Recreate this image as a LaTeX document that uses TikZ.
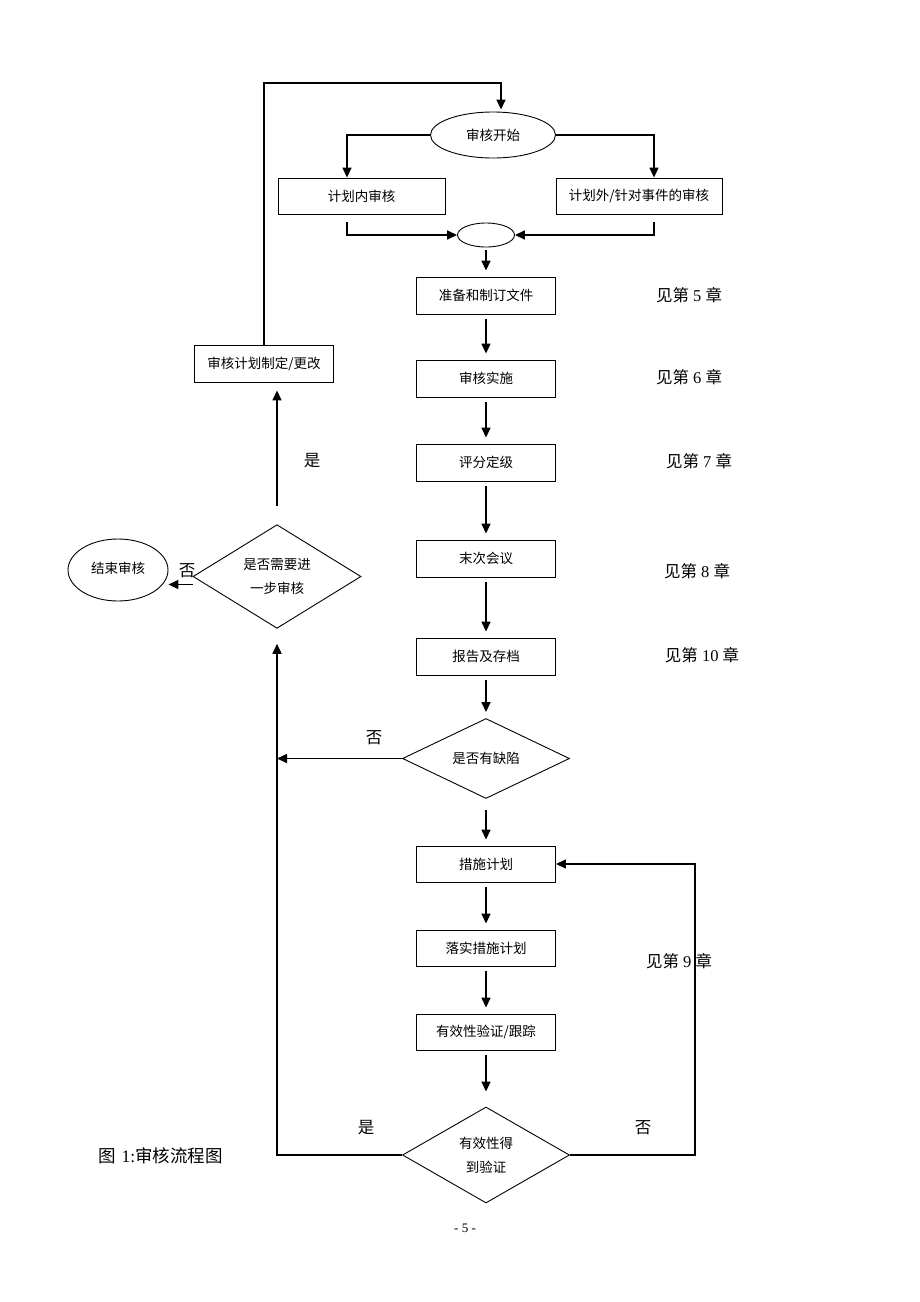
\documentclass[tikz,border=0pt]{standalone}
\usepackage{fontspec}
\setmainfont{Liberation Serif}
\newfontfamily\cjk{Noto Sans CJK SC}
\usetikzlibrary{shapes.geometric,arrows.meta}
\begin{document}
\begin{tikzpicture}[x=1pt,y=-1pt,
  box/.style={draw,line width=0.9pt,minimum width=139pt,minimum height=37pt,inner sep=0pt,font=\cjk\fontsize{13.5}{16}\selectfont},
  oval/.style={draw,ellipse,line width=0.9pt,inner sep=0pt,font=\cjk\fontsize{13.5}{16}\selectfont},
  dia/.style={draw,diamond,line width=0.9pt,inner sep=0pt,align=center,font=\cjk\fontsize{13.5}{24}\selectfont},
  arr/.style={line width=1.6pt,-{Triangle[length=10pt,width=9pt]}},
  vflow/.style={arr,shorten <=5pt,shorten >=6pt},
  lbl/.style={inner sep=0pt,font=\fontsize{16.5}{18}\selectfont}]
\useasboundingbox[fill=white] (0,0) rectangle (920,1302);

% nodes
\node[oval,minimum width=125pt,minimum height=46pt] (start) at (493,135) {审核开始};
\node[box,minimum width=167pt,minimum height=36pt] (in) at (361.5,196) {计划内审核};
\node[box,minimum width=166pt,minimum height=36pt] (out) at (639,196) {计划外/针对事件的审核};
\node[oval,minimum width=57pt,minimum height=24pt] (merge) at (486,235) {};
\node[box] (prep) at (486,295.5) {准备和制订文件};
\node[box] (impl) at (486,378.5) {审核实施};
\node[box] (grade) at (486,462.5) {评分定级};
\node[box] (meet) at (486,558.5) {末次会议};
\node[box] (rep) at (486,656.5) {报告及存档};
\node[dia,minimum width=167pt,minimum height=73pt] (def) at (486,758.5) {是否有缺陷};
\node[box,minimum height=36pt] (plan) at (486,864) {措施计划};
\node[box,minimum height=36pt] (exec) at (486,948) {落实措施计划};
\node[box,minimum height=36pt] (verif) at (486,1032) {有效性验证/跟踪};
\node[dia,minimum width=167pt,minimum height=96pt] (eff) at (486,1155) {有效性得\\到验证};
\node[dia,minimum width=168pt,minimum height=97pt] (more) at (277,576.5) {是否需要进\\一步审核};
\node[oval,minimum width=100pt,minimum height=62pt] (end) at (118,570) {\raisebox{4pt}{结束审核}};
\node[box] (rev) at (264,363.5) {审核计划制定/更改};

% side labels
\node[lbl] (c5) at (689,295) {{\cjk 见第} 5 {\cjk 章}};
\node[lbl] (c6) at (689,377) {{\cjk 见第} 6 {\cjk 章}};
\node[lbl] (c7) at (699,461) {{\cjk 见第} 7 {\cjk 章}};
\node[lbl] (c8) at (697,571) {{\cjk 见第} 8 {\cjk 章}};
\node[lbl] (c10) at (702,655) {{\cjk 见第} 10 {\cjk 章}};
\node[lbl] (c9) at (679,961) {{\cjk 见第} 9 {\cjk 章}};
\node[lbl,font=\cjk\fontsize{16.5}{18}\selectfont] (no1) at (374,738) {否};
\node[lbl,font=\cjk\fontsize{16.5}{18}\selectfont] (yes1) at (312,461) {是};
\node[lbl,font=\cjk\fontsize{16.5}{18}\selectfont] (no2) at (187,571) {否};
\node[lbl,font=\cjk\fontsize{16.5}{18}\selectfont] (yes2) at (366,1128) {是};
\node[lbl,font=\cjk\fontsize{16.5}{18}\selectfont] (no3) at (643,1128) {否};
\node[lbl,anchor=west,font=\fontsize{17.5}{19}\selectfont] (cap) at (98,1156) {{\cjk 图}\hspace{6pt}1:{\cjk 审核流程图}};
\node[lbl,font=\fontsize{13}{15}\selectfont] (page) at (465,1228) {- 5 -};

% coordinates
\coordinate (tr) at (501,83);
\coordinate (rloop) at (695,1155);

% connectors
\draw[arr] (rev.north) |- (tr) -- ([yshift=2pt]tr |- start.north);
\draw[arr] (start.west) -| ([xshift=-14.5pt]in.north);
\draw[arr] (start.east) -| ([xshift=15pt]out.north);
\draw[arr] ([xshift=-14.5pt,yshift=-8pt]in.south) |- (merge.west);
\draw[arr] ([xshift=15pt,yshift=-8pt]out.south) |- (merge.east);
\draw[vflow,shorten <=3pt] (merge) -- (prep);
\draw[vflow] (prep) -- (impl);
\draw[vflow] (impl) -- (grade);
\draw[vflow] (grade) -- (meet);
\draw[vflow] (meet) -- (rep);
\draw[vflow] (rep) -- (def);
\draw[vflow,shorten <=11pt] (def) -- (plan);
\draw[vflow] (plan) -- (exec);
\draw[vflow] (exec) -- (verif);
\draw[vflow,shorten >=15pt] (verif) -- (eff);
\draw[arr] (def.west) -- (def.west -| more.south);
\draw[arr] (eff.west) -| ([yshift=-15pt]more.south);
\draw[arr] (eff.east) -- (rloop) |- (plan.east);
\draw[arr] ([yshift=18pt]more.north) -- ([yshift=-8pt]more.north |- rev.south);
\draw[arr] ([yshift=-8pt]more.west) -- ([yshift=-8pt]more.west -| end.east);
\end{tikzpicture}
\end{document}
